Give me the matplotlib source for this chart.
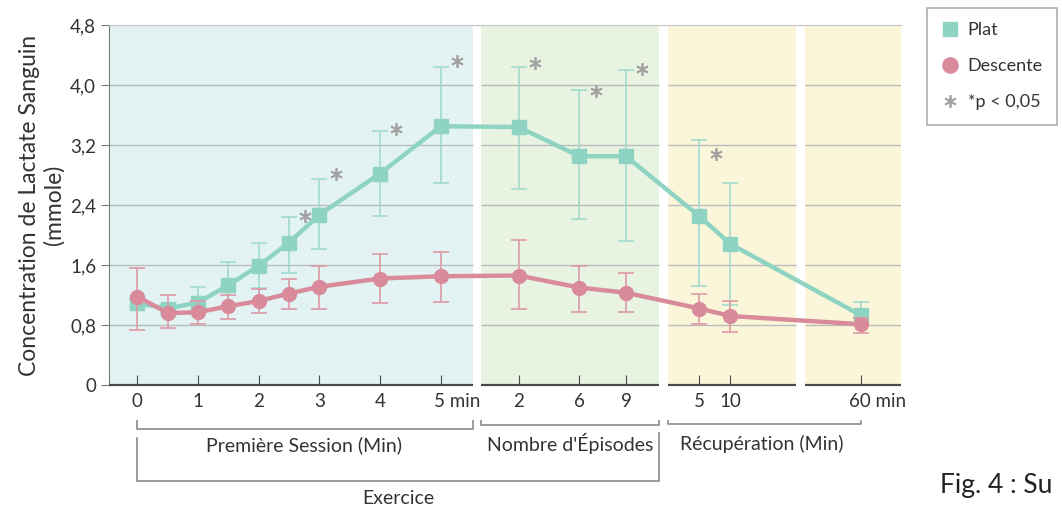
import matplotlib.pyplot as plt
from matplotlib.transforms import blended_transform_factory, ScaledTranslation
from matplotlib.lines import Line2D

plt.rcParams['font.family'] = ['Lato', 'DejaVu Sans']

# ---------------- DATA ----------------
# x slots: first session (0..5 min, with half minutes), episodes, recovery
x_pos = [0, 0.5, 1, 1.5, 2, 2.5, 3, 4, 5, 6.28, 7.28, 8.05, 9.26, 9.77, 11.92]

plat = [1.09, 1.02, 1.10, 1.33, 1.59, 1.90, 2.27, 2.82, 3.45, 3.44, 3.05, 3.05, 2.25, 1.88, 0.93]
plat_hi = [1.15, 1.08, 1.31, 1.64, 1.90, 2.24, 2.74, 3.39, 4.24, 4.24, 3.93, 4.20, 3.27, 2.69, 1.11]
plat_lo = [1.03, 0.96, 0.95, 1.05, 1.30, 1.49, 1.81, 2.26, 2.70, 2.61, 2.21, 1.92, 1.32, 1.07, 0.80]

desc = [1.18, 0.96, 0.97, 1.05, 1.12, 1.22, 1.31, 1.42, 1.45, 1.46, 1.30, 1.23, 1.02, 0.92, 0.81]
desc_hi = [1.56, 1.20, 1.12, 1.20, 1.28, 1.42, 1.59, 1.75, 1.77, 1.93, 1.59, 1.49, 1.22, 1.12, 0.90]
desc_lo = [0.73, 0.76, 0.81, 0.88, 0.96, 1.01, 1.02, 1.10, 1.11, 1.01, 0.97, 0.98, 0.81, 0.71, 0.69]

# significance markers (index into x_pos, height)
star_idx = [5, 6, 7, 8, 9, 10, 11, 12]
star_y = [2.25, 2.81, 3.42, 4.32, 4.29, 3.92, 4.21, 3.08]

tick_pos = [0, 1, 2, 3, 4, 5, 6.28, 7.28, 8.05, 9.26, 9.77, 11.92]
tick_lbl = ["0", "1", "2", "3", "4", "5 min", "2", "6", "9", "5", "10", "60 min"]

yticks = [0, 0.8, 1.6, 2.4, 3.2, 4.0, 4.8]
ylbls = ["0", "0,8", "1,6", "2,4", "3,2", "4,0", "4,8"]

# ---------------- STYLE ----------------
GREEN = "#8fd4c3"
GREEN_E = "#a3dacd"
PINK = "#d98b9b"
PINK_E = "#dd9aa7"
panels = [(-0.471, 5.53, "#e3f3f3"), (5.67, 8.6, "#e8f4e1"),
          (8.75, 10.85, "#fbf6da"), (11.0, 12.576, "#fbf6da")]

fig = plt.figure(figsize=(10.62, 5.12), dpi=100)
ax = fig.add_axes([108.7 / 1062, 127 / 512, 792 / 1062, 360 / 512])
ax.set_xlim(-0.471, 12.576)
ax.set_ylim(0, 4.8)

for x0, x1, c in panels:
    ax.axvspan(x0, x1, color=c, lw=0, zorder=0)
    ax.hlines(yticks[1:-1], x0, x1, color="#b9bcbc", lw=1, zorder=1)
    ax.hlines(0, x0, x1, color="#4a4a4a", lw=1.6, zorder=3, clip_on=False)

ax.errorbar(x_pos, plat,
            yerr=[[p - l for p, l in zip(plat, plat_lo)], [h - p for p, h in zip(plat, plat_hi)]],
            color=GREEN, ecolor=GREEN_E, elinewidth=1.2, capsize=6, capthick=1.2,
            lw=3.2, marker="s", ms=9.5, zorder=4)
ax.errorbar(x_pos, desc,
            yerr=[[p - l for p, l in zip(desc, desc_lo)], [h - p for p, h in zip(desc, desc_hi)]],
            color=PINK, ecolor=PINK_E, elinewidth=1.2, capsize=6, capthick=1.2,
            lw=3.2, marker="o", ms=10, zorder=5)

ax.plot([x_pos[i] + 0.27 for i in star_idx], star_y, ls="none",
        marker=(6, 2, 0), ms=9, mew=1.3, color="#a3a3a3", zorder=6)

for s in ["right", "bottom"]:
    ax.spines[s].set_visible(False)
ax.spines["left"].set_color("#777777")
ax.spines["top"].set_color("#c4c4c4")

ax.set_yticks(yticks)
ax.set_yticklabels(ylbls)
ax.tick_params(axis="y", direction="out", length=6, color="#777777",
               labelsize=13.5, labelcolor="#333333", pad=3)
ax.set_xticks(tick_pos)
ax.set_xticklabels(tick_lbl)
ax.tick_params(axis="x", direction="in", length=7, color="#4a4a4a",
               labelsize=13.5, labelcolor="#333333", pad=6)
for t in ax.get_xticklabels():
    if "min" in t.get_text():
        t.set_ha("left")
        dx = -7 if t.get_text() == "5 min" else -12
        t.set_transform(t.get_transform() + ScaledTranslation(dx / 100, 0, fig.dpi_scale_trans))

ax.set_ylabel("Concentration de Lactate Sanguin\n(mmole)", fontsize=16.5,
              color="#333333", labelpad=4, linespacing=1.2)

# brackets under the axis
tr = blended_transform_factory(ax.transData, ax.transAxes)
bk = dict(color="#8a8a8a", lw=1.2, transform=tr, clip_on=False)
ax.plot([0, 0, 5.53, 5.53], [-0.10, -0.122, -0.122, -0.10], **bk)
ax.plot([5.67, 5.67, 8.6, 8.6], [-0.10, -0.112, -0.112, -0.10], **bk)
ax.plot([8.74, 8.74, 11.92, 11.92], [-0.10, -0.107, -0.107, -0.10], **bk)
ax.plot([0, 0, 8.6, 8.6], [-0.147, -0.268, -0.268, -0.133], **bk)

tk = dict(transform=tr, ha="center", va="center", fontsize=14, color="#333333")
ax.text(2.75, -0.168, "Première Session (Min)", **tk)
ax.text(7.13, -0.163, "Nombre d'Épisodes", **tk)
ax.text(10.29, -0.163, "Récupération (Min)", **tk)
ax.text(4.3, -0.314, "Exercice", **tk)

fig.text(940 / 1062, 1 - 485 / 512, "Fig. 4 : Su", fontsize=19, color="#222222",
         ha="left", va="center")

handles = [
    Line2D([], [], ls="none", marker="s", ms=10, color=GREEN),
    Line2D([], [], ls="none", marker="o", ms=11, color=PINK),
    Line2D([], [], ls="none", marker=(6, 2, 0), ms=9, mew=1.3, color="#a3a3a3"),
]
leg = fig.legend(handles, ["Plat", "Descente", "*p < 0,05"], loc="upper left",
                 bbox_to_anchor=(927 / 1062, 1 - 8 / 512), frameon=True, fancybox=False,
                 fontsize=13, labelspacing=1.1, handlelength=1.0, handletextpad=0.45,
                 borderpad=0.8, borderaxespad=0)
leg.get_frame().set_edgecolor("#999999")
leg.get_frame().set_linewidth(1.2)
for t in leg.get_texts():
    t.set_color("#333333")

fig.savefig("out.png", dpi=100)
